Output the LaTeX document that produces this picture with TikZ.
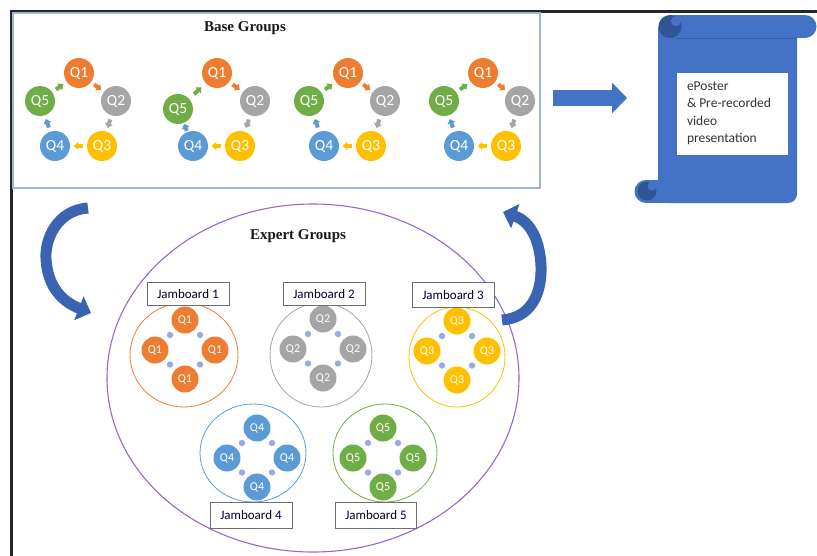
\documentclass[tikz,border=0pt]{standalone}
\usepackage{fontspec}
\setmainfont{Liberation Serif}
\newfontfamily\calfont{Carlito}
\usetikzlibrary{calc,arrows.meta}

\definecolor{cqa}{HTML}{ED7D31}
\definecolor{cqb}{HTML}{A5A5A5}
\definecolor{cqc}{HTML}{FFC000}
\definecolor{cqd}{HTML}{5B9BD5}
\definecolor{cqe}{HTML}{70AD47}
\definecolor{boxblue}{HTML}{9DB4E0}
\definecolor{scrollblue}{HTML}{4472C4}
\definecolor{scrolldark}{HTML}{2F5597}
\definecolor{bendblue}{HTML}{3A64B2}
\definecolor{ringpurple}{HTML}{9966CC}
\definecolor{dotblue}{HTML}{9AAADE}
\definecolor{labelgray}{HTML}{6E6E6E}

\tikzset{
  qbig/.style={circle, inner sep=0pt, minimum size=30pt, text=white,
    font=\calfont\fontsize{15.5}{15.5}\selectfont},
  qsmall/.style={circle, inner sep=0pt, minimum size=27pt, text=white,
    font=\calfont\fontsize{12}{12}\selectfont},
  tinyarrow/.style={line width=4pt, -{Triangle[width=8pt,length=4.5pt]}},
  linkdot/.style={fill=dotblue},
  jamlabel/.style={draw=labelgray, line width=1pt, fill=white, inner sep=0pt,
    minimum height=23pt, minimum width=82pt,
    font=\calfont\fontsize{13}{13}\selectfont, text=black!80!blue},
  title/.style={font=\fontsize{15}{18}\selectfont\bfseries, text=black!90},
  bendarrow/.style={draw=bendblue, line width=11pt},
}

\begin{document}
\begin{tikzpicture}[x=1pt,y=-1pt]
\useasboundingbox (0,0) rectangle (817,555);

% outer frame (top and left rule)
\draw[line width=3pt, black!85] (11,556) -- (11,11) -- (817,11);

% base groups panel
\node[draw=boxblue, line width=1.3pt, minimum width=527pt, minimum height=175pt,
  inner sep=0pt] (base) at (276.5,100.5) {};
\node[title] (basetitle) at (245,28) {Base Groups};

% five-member rotation groups
\foreach \g/\x/\d/\e in {1/79/0/0, 2/217/8/1, 3/348/0/0, 4/483/0/0} {
  \node[qbig, fill=cqa] (g\g a) at (\x,73) {Q1};
  \node[qbig, fill=cqb] (g\g b) at (\x+37+\e,101) {Q2};
  \node[qbig, fill=cqc] (g\g c) at (\x+23,146) {Q3};
  \node[qbig, fill=cqd] (g\g d) at (\x-24,146) {Q4};
  \node[qbig, fill=cqe] (g\g e) at (\x-39,101+\d) {Q5};
  \draw[tinyarrow, cqa] ($(g\g a)!0.41!(g\g b)$) -- ($(g\g a)!0.60!(g\g b)$);
  \draw[tinyarrow, cqb] ($(g\g b)!0.41!(g\g c)$) -- ($(g\g b)!0.60!(g\g c)$);
  \draw[tinyarrow, cqc] ($(g\g c)!0.41!(g\g d)$) -- ($(g\g c)!0.60!(g\g d)$);
  \draw[tinyarrow, cqd] ($(g\g d)!0.41!(g\g e)$) -- ($(g\g d)!0.60!(g\g e)$);
  \draw[tinyarrow, cqe] ($(g\g e)!0.41!(g\g a)$) -- ($(g\g e)!0.60!(g\g a)$);
}

% arrow towards the output scroll
\coordinate (outstart) at (553,98);
\coordinate (outend) at (627,98);
\draw[draw=scrollblue, line width=16pt, -{Triangle[width=30pt,length=15pt]}]
  (outstart) -- (outend);

% scroll: body, rolls and curls
\fill[scrollblue, rounded corners=9pt] (658,20) rectangle (797,203);
\fill[scrollblue] (646,180) rectangle (670,203);
\fill[scrollblue] (646,191.5) circle (11.5);
\fill[scrolldark] (647,191) circle (9.5);
\fill[scrollblue] (652,186) circle (4.5);
\fill[scrollblue] (670,15) rectangle (805,38);
\fill[scrollblue] (805,26.5) circle (11.5);
\fill[scrolldark] (670,26.5) circle (11.5);
\fill[scrollblue] (676,21) circle (5);
\draw[scrolldark!70!scrollblue, line width=0.8pt] (676,38) -- (797,38);
\node[fill=white, inner sep=0pt, minimum width=111pt, minimum height=82pt]
  (scrollbox) at (732.5,114) {};
\node[anchor=north west, align=left, inner sep=0pt,
  font=\calfont\fontsize{13.5}{17.3}\selectfont, text=black!80]
  (scrolltext) at ($(scrollbox.north west)+(10,9)$)
  {ePoster\\\& Pre-recorded\\video\\presentation};

% expert groups ring
\draw[ringpurple, line width=1.1pt] (313,378) ellipse [x radius=206, y radius=174];
\node[title] (experttitle) at (298,236) {Expert Groups};

% curved transfer arrows
\coordinate (downstart) at (88,208);
\coordinate (downend) at (91,313);
\draw[bendarrow, -{Triangle[width=25pt,length=13pt]}]
  (downstart) .. controls (58,210) and (45,238) .. (46,258)
  .. controls (47,282) and (58,300) .. (downend);
\coordinate (upstart) at (502,320);
\coordinate (upend) at (503,212);
\draw[bendarrow, -{Triangle[width=25pt,length=13pt]}]
  (upstart) .. controls (530,318) and (542,295) .. (541,266)
  .. controls (540,243) and (532,222) .. (upend);

% expert jamboards
\foreach \j/\cx/\cy/\col/\q/\rx/\ry/\ox/\oy in {
    1/185/349/cqa/Q1/54/52/184/355,
    2/323/348/cqb/Q2/51/52/321/355,
    3/457/350/cqc/Q3/48/50/457/357,
    4/257/457/cqd/Q4/53/49/253/453,
    5/383/457/cqe/Q5/52/49/385/453} {
  \draw[\col, line width=0.8pt] (\ox,\oy) ellipse [x radius=\rx, y radius=\ry];
  \node[qsmall, fill=\col] (j\j t) at (\cx,\cy-29) {\q};
  \node[qsmall, fill=\col] (j\j l) at (\cx-30,\cy+1) {\q};
  \node[qsmall, fill=\col] (j\j r) at (\cx+30,\cy+1) {\q};
  \node[qsmall, fill=\col] (j\j b) at (\cx,\cy+30) {\q};
  \fill[linkdot] ($(j\j t)!0.5!(j\j l)$) circle (3.2);
  \fill[linkdot] ($(j\j t)!0.5!(j\j r)$) circle (3.2);
  \fill[linkdot] ($(j\j b)!0.5!(j\j l)$) circle (3.2);
  \fill[linkdot] ($(j\j b)!0.5!(j\j r)$) circle (3.2);
}

\node[jamlabel] (jl1) at (188,294) {Jamboard 1};
\node[jamlabel] (jl2) at (324,294) {Jamboard 2};
\node[jamlabel, minimum height=25pt] (jl3) at (453,295) {Jamboard 3};
\node[jamlabel, minimum height=26pt] (jl4) at (251,515) {Jamboard 4};
\node[jamlabel, minimum height=26pt, minimum width=81pt] (jl5) at (376,515) {Jamboard 5};

\end{tikzpicture}
\end{document}
